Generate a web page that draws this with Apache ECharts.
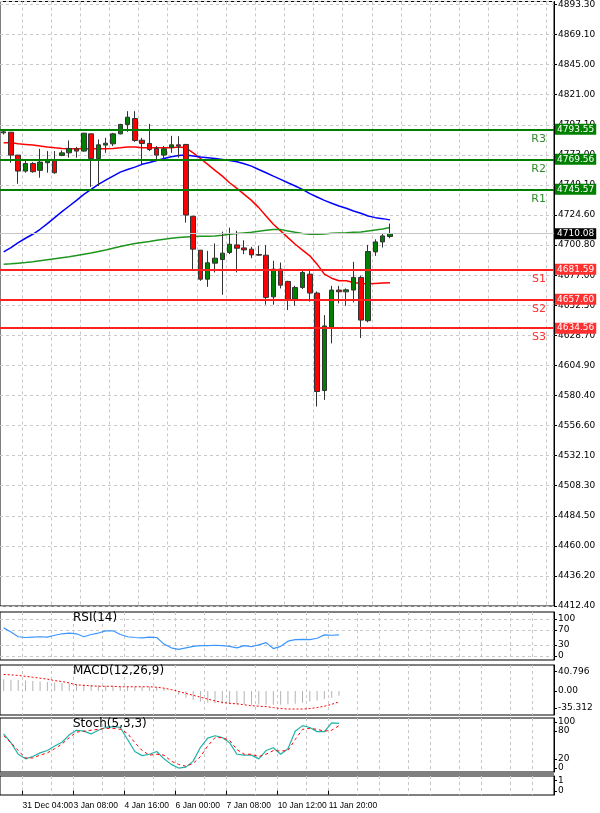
<!DOCTYPE html>
<html><head><meta charset="utf-8">
<script src="https://cdn.jsdelivr.net/npm/echarts@6/dist/echarts.min.js"></script>
<style>html,body{margin:0;padding:0;background:#fff}#c{width:600px;height:813px}</style>
</head><body><div id="c"></div>
<script>
// ---- data ----
const slotCount = 76;
const xLabelAt = {3:'31 Dec 04:00',10:'3 Jan 08:00',17:'4 Jan 16:00',24:'6 Jan 00:00',31:'7 Jan 08:00',38:'10 Jan 12:00',45:'11 Jan 20:00'};
const categories = Array.from({length: slotCount}, (_, i) => xLabelAt[i] || '');
// [open, close, low, high]
const candles = [
[4790.7,4791.5,4789.4,4793.0],[4791.2,4772.9,4766.8,4791.2],[4772.9,4760.1,4750.0,4772.9],[4760.1,4766.2,4758.8,4769.4],
[4766.2,4759.6,4758.8,4767.3],[4760.7,4767.3,4754.8,4777.9],[4766.8,4769.4,4758.8,4776.1],[4768.6,4758.8,4758.0,4776.1],
[4772.6,4774.7,4772.1,4776.6],[4774.7,4778.2,4770.8,4784.6],[4777.9,4776.1,4770.8,4779.5],[4776.1,4790.4,4775.6,4790.7],
[4789.9,4770.2,4747.4,4789.9],[4770.2,4781.1,4748.2,4785.4],[4780.9,4782.4,4774.7,4786.7],[4781.9,4789.9,4780.1,4790.7],
[4789.9,4797.4,4789.4,4797.9],[4797.4,4803.2,4791.5,4808.0],[4802.1,4784.6,4783.5,4808.0],[4784.8,4782.2,4765.4,4786.7],
[4782.2,4777.4,4776.1,4797.9],[4778.2,4772.9,4768.1,4780.1],[4772.9,4777.9,4768.1,4780.1],[4779.0,4781.1,4774.7,4788.3],
[4781.1,4780.1,4770.8,4788.0],[4781.4,4725.0,4718.9,4781.9],[4724.0,4697.7,4681.7,4724.2],[4696.9,4673.7,4672.4,4696.9],
[4673.7,4686.8,4667.6,4696.3],[4686.5,4690.5,4679.1,4702.2],[4689.4,4694.5,4661.2,4711.7],[4695.0,4701.6,4693.7,4714.9],
[4701.1,4698.4,4679.1,4712.3],[4698.7,4697.1,4693.7,4704.8],[4697.7,4693.1,4690.5,4699.5],[4693.4,4692.9,4692.3,4700.3],
[4692.9,4659.1,4653.3,4700.9],[4659.6,4681.7,4653.3,4688.4],[4681.7,4668.9,4666.3,4687.0],[4671.9,4657.0,4649.0,4672.4],
[4657.8,4667.1,4652.4,4668.4],[4667.1,4679.1,4665.8,4680.4],[4677.7,4662.6,4655.7,4680.4],[4662.6,4583.9,4571.9,4663.9],
[4584.7,4636.3,4577.2,4645.0],[4635.2,4665.0,4622.4,4668.4],[4665.0,4663.6,4654.3,4668.4],[4663.6,4665.2,4652.4,4666.3],
[4665.0,4675.1,4655.1,4687.6],[4675.1,4641.0,4626.7,4676.4],[4640.5,4695.8,4639.2,4701.1],[4695.5,4703.5,4692.3,4705.6],
[4703.5,4708.3,4699.0,4710.2],[4707.8,4710.08,4706.4,4718.1]];
const maRed = [4782.7,4782.7,4781.9,4781.4,4780.9,4780.1,4779.3,4778.7,4778.2,4777.9,4777.9,4777.9,4777.9,4777.9,4777.9,
4778.2,4778.7,4779.3,4779.3,4778.7,4778.7,4778.7,4778.7,4778.7,4779.3,4778.7,4774.7,4770.2,4765.5,4760.7,4756.1,4750.8,
4746.3,4741.5,4736.7,4730.9,4724.2,4717.6,4712.3,4706.9,4701.6,4696.9,4692.4,4685.7,4677.7,4674.5,4672.4,4672.4,4671.1,
4670.3,4670.0,4670.3,4670.6,4670.8];
const maBlue = [4695.5,4699.0,4703.0,4706.4,4709.6,4713.6,4718.1,4722.9,4727.7,4732.2,4736.7,4741.5,4745.5,4749.5,4752.9,
4756.1,4759.3,4761.4,4763.3,4765.5,4767.0,4768.6,4770.2,4771.6,4772.6,4772.9,4772.1,4771.3,4770.8,4770.2,4769.4,4768.6,
4767.6,4766.0,4764.1,4761.4,4758.8,4756.1,4753.5,4750.8,4748.2,4745.5,4742.1,4739.4,4736.7,4734.4,4732.2,4730.4,4728.2,
4726.4,4724.2,4722.9,4722.1,4721.1];
const maGreen = [4685.7,4686.0,4686.5,4687.0,4687.6,4688.4,4689.2,4690.0,4690.8,4691.6,4692.6,4693.7,4694.7,4695.8,4697.1,
4698.5,4699.8,4701.1,4702.2,4703.0,4703.8,4704.8,4705.6,4706.4,4707.0,4707.5,4707.8,4708.0,4708.0,4708.3,4708.8,4709.6,
4710.2,4710.7,4711.2,4712.0,4712.8,4713.4,4713.4,4712.3,4711.2,4710.2,4709.6,4709.6,4709.9,4710.4,4710.7,4710.9,4711.2,
4711.5,4712.3,4713.1,4713.9,4715.0];
const resistance = [['R3',4793.55],['R2',4769.56],['R1',4745.57]];
const support = [['S1',4681.59],['S2',4657.60],['S3',4634.56]];
const lastPrice = 4710.08;
const priceTickLabels = ['4412.40','4436.20','4460.00','4484.50','4508.30','4532.10','4556.60','4580.40','4604.90','4628.70',
'4652.50','4677.00','4700.80','4724.60','4749.10','4773.00','4797.10','4821.00','4845.00','4869.10','4893.30'];
const rsi = [76,65,52,50,51,52,51,56,60,62,60,52,58,62,68,68,58,52,50,49,51,50,32,22,18,22,26,28,28,29,28,26,22,28,25,30,36,
20,26,40,44,45,44,48,57,56,57];
const macdHist = [25,24,23,22,21,20,19,18,17,16,15,14,13,12,11,11,10,10,9,9,9,8,5,0,-8,-14,-19,-22,-25,-26,-27,-28,-28,-28,
-29,-29,-29,-29,-29,-28,-27,-25,-22,-20,-17,-14,-10];
const macdSignal = [35,34,33,31,29,27,25,22,20,17,13,12,11,10,10,10,9,9,9,9,9,8,6,3,-1,-5,-9,-13,-17,-21,-24,-26,-27,-29,-31,
-32,-33,-35,-37,-38,-38,-38,-37,-35,-32,-28,-23];
const stochMain = [74,55,30,20,25,33,38,48,56,72,82,80,74,82,88,90,88,62,36,27,30,36,20,8,0,2,15,45,65,70,66,55,30,28,28,20,38,
44,30,42,80,92,88,79,79,98,97];
const stochSignal = [70,55,38,22,22,28,33,42,52,66,78,80,82,84,86,86,84,75,55,38,28,30,28,15,8,4,10,25,48,66,66,60,40,30,30,25,
30,38,37,38,62,84,86,84,80,82,92];

// ---- chart ----
const F = 'DejaVu Sans';
const FL = 'Liberation Sans';
const chart = echarts.init(document.getElementById('c'));
const gridCommon = {left: -1, right: 46, show: true, borderColor: '#000', borderWidth: 1, backgroundColor: '#fff'};
const grids = [
  {...gridCommon, top: 0, height: 606},
  {...gridCommon, top: 612, height: 48},
  {...gridCommon, top: 665, height: 50},
  {...gridCommon, top: 718, height: 54},
  {...gridCommon, top: 776, height: 19}
];
const dashed = {show: true, lineStyle: {color: '#c8c8c8', type: [3, 3], width: 1}};
function xAx(gi, main) {
  return {type: 'category', gridIndex: gi, data: categories, boundaryGap: true,
    axisLine: {show: false}, axisTick: {show: gi === 4, interval: (i) => !!xLabelAt[i], length: 4, lineStyle: {color: '#000'}},
    axisLabel: {show: gi === 4, interval: 0, align: 'left', fontFamily: FL, fontSize: 8.5, color: '#000', margin: 6, padding: [0, 0, 0, -3]},
    splitLine: {...dashed, interval: main ? ((i) => i % 4 === 3) : ((i) => i > 0 && (i % 7 === 3 || i % 7 === 0))}};
}
function yAx(gi, o) {
  return Object.assign({type: 'value', gridIndex: gi, position: 'right',
    axisLine: {show: true, lineStyle: {color: '#000'}}, axisTick: {show: true, length: 3, lineStyle: {color: '#000'}},
    axisLabel: {fontFamily: F, fontSize: 9, color: '#000', margin: 4}, splitLine: {show: false}}, o);
}
const levelLines = [];
resistance.forEach(([n, v]) => {
  levelLines.push({yAxis: v, lineStyle: {color: '#008000', width: 2, type: 'solid'},
    label: {show: true, position: 'end', formatter: v.toFixed(2), backgroundColor: '#008000', color: '#fff', fontFamily: F, fontSize: 9, padding: [1, 2], distance: 1}});
  levelLines.push({yAxis: v, lineStyle: {color: '#008000', width: 2, type: 'solid'},
    label: {show: true, position: 'insideEndBottom', formatter: n, color: '#2e8b2e', fontFamily: F, fontSize: 11, distance: [8, 4]}});
});
support.forEach(([n, v]) => {
  levelLines.push({yAxis: v, lineStyle: {color: '#ff2020', width: 2, type: 'solid'},
    label: {show: true, position: 'end', formatter: v.toFixed(2), backgroundColor: '#ff3030', color: '#fff', fontFamily: F, fontSize: 9, padding: [1, 2], distance: 1}});
  levelLines.push({yAxis: v, lineStyle: {color: '#ff2020', width: 2, type: 'solid'},
    label: {show: true, position: 'insideEndBottom', formatter: n, color: '#ff3030', fontFamily: F, fontSize: 11, distance: [8, 4]}});
});
levelLines.push({yAxis: lastPrice, lineStyle: {color: '#c8c8c8', width: 1, type: 'solid'},
  label: {show: true, position: 'end', formatter: lastPrice.toFixed(2), backgroundColor: '#000', color: '#fff', fontFamily: F, fontSize: 9, padding: [1, 2], distance: 1}});

const line = (data, color, xi, yi, extra) => Object.assign({type: 'line', data, xAxisIndex: xi, yAxisIndex: yi, symbol: 'none',
  lineStyle: {color, width: 1.5}, silent: true, animation: false, z: 3}, extra || {});

chart.setOption({
  animation: false,
  backgroundColor: '#fff',
  grid: grids,
  xAxis: [xAx(0, true), xAx(1), xAx(2), xAx(3), xAx(4)],
  yAxis: [
    yAx(0, {min: 4412.4, max: 4895.7, interval: 24.045, axisLabel: {fontFamily: F, fontSize: 9, color: '#000', margin: 4, showMaxLabel: false,
      formatter: (v, i) => priceTickLabels[i] || ''}, splitLine: {show: true, lineStyle: {color: '#c8c8c8', type: [3, 3]}}}),
    yAx(1, {min: -11, max: 119, axisLabel: {fontFamily: F, fontSize: 9, color: '#000', margin: 4, customValues: [0, 30, 70, 100]},
      axisTick: {show: true, length: 3, customValues: [0, 30, 70, 100], lineStyle: {color: '#000'}},
      splitLine: {show: true, lineStyle: {color: '#c8c8c8', type: [3, 3]}}, interval: 10}),
    yAx(2, {min: -50.6, max: 54.9, axisLabel: {fontFamily: F, fontSize: 9, color: '#000', margin: 4, customValues: [-35.312, 0, 40.796],
      formatter: (v) => v.toFixed(v === 0 ? 2 : 3)}, axisTick: {show: true, length: 3, customValues: [-35.312, 0, 40.796], lineStyle: {color: '#000'}}}),
    yAx(3, {min: -8.5, max: 108.5, axisLabel: {fontFamily: F, fontSize: 9, color: '#000', margin: 4, customValues: [0, 20, 80, 100]},
      axisTick: {show: true, length: 3, customValues: [0, 20, 80, 100], lineStyle: {color: '#000'}}}),
    yAx(4, {min: -0.4, max: 1.4, axisLabel: {fontFamily: F, fontSize: 9, color: '#000', margin: 4, customValues: [0, 1]},
      axisTick: {show: true, length: 3, customValues: [0, 1], lineStyle: {color: '#000'}}})
  ],
  graphic: [
    {type: 'rect', shape: {x: 0, y: 773, width: 554, height: 3}, style: {fill: '#808080'}, z: 100},
    {type: 'text', left: 73, top: 612, style: {text: 'RSI(14)', font: '12px DejaVu Sans', fill: '#000'}, z: 100},
    {type: 'text', left: 73, top: 665, style: {text: 'MACD(12,26,9)', font: '12px DejaVu Sans', fill: '#000'}, z: 100},
    {type: 'text', left: 73, top: 718, style: {text: 'Stoch(5,3,3)', font: '12px DejaVu Sans', fill: '#000'}, z: 100}
  ],
  series: [
    {type: 'candlestick', data: candles, xAxisIndex: 0, yAxisIndex: 0, barWidth: 5, z: 4,
      itemStyle: {color: '#008000', color0: '#ff0000', borderColor: '#333', borderColor0: '#333', borderWidth: 1},
      markLine: {symbol: 'none', silent: true, animation: false, data: levelLines}},
    line(maRed, '#ff0000', 0, 0),
    line(maBlue, '#0000ff', 0, 0),
    line(maGreen, '#1e961e', 0, 0),
    line(rsi, '#3c96ff', 1, 1, {lineStyle: {color: '#3c96ff', width: 1.2}}),
    {type: 'bar', data: macdHist, xAxisIndex: 2, yAxisIndex: 2, barWidth: 1, itemStyle: {color: '#b4b4b4'}, silent: true},
    line(macdSignal, '#ff0000', 2, 2, {lineStyle: {color: '#ff0000', width: 1, type: [2, 2]}}),
    line(stochMain, '#20b2aa', 3, 3, {lineStyle: {color: '#20b2aa', width: 1.2}}),
    line(stochSignal, '#ff0000', 3, 3, {lineStyle: {color: '#ff0000', width: 1, type: [3, 3]}})
  ]
});
</script></body></html>
